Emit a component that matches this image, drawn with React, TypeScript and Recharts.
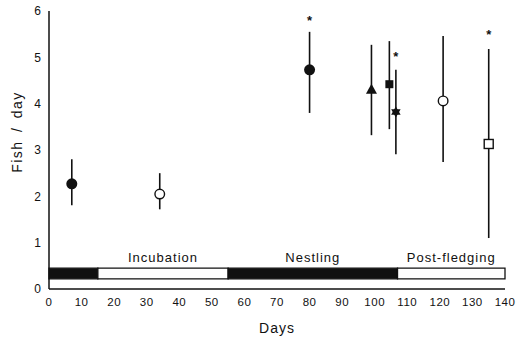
import React from 'react';
import {
  ComposedChart,
  Scatter,
  XAxis,
  YAxis,
  ErrorBar,
  ReferenceArea
} from 'recharts';

// observations: day of season, mean fish/day and range
const days = [7, 34, 80, 99, 104.5, 106.5, 121, 135];
const means = [2.27, 2.05, 4.73, 4.3, 4.42, 3.82, 4.06, 3.13];
const lows = [1.81, 1.72, 3.8, 3.32, 3.45, 2.91, 2.74, 1.1];
const highs = [2.8, 2.5, 5.55, 5.27, 5.35, 4.73, 5.46, 5.18];
const markers = ['filledCircle', 'openCircle', 'filledCircle', 'triangle', 'square', 'star', 'openCircle', 'openSquare'];

// significance asterisks
const starDays = [80, 106.5, 135];
const starY = [5.85, 5.07, 5.55];

// breeding phases bar
const phaseStart = [0, 15, 55, 107];
const phaseEnd = [15, 55, 107, 140];
const phaseFill = ['#111', '#fff', '#111', '#fff'];
const phaseLabel = ['', 'Incubation', 'Nestling', 'Post-fledging'];

const xTicks = [0, 10, 20, 30, 40, 50, 60, 70, 80, 90, 100, 110, 120, 130, 140];
const yTicks = [0, 1, 2, 3, 4, 5, 6];

const points = days.map((d, i) => ({
  day: d,
  fish: means[i],
  err: [means[i] - lows[i], highs[i] - means[i]],
  marker: markers[i]
}));

const stars = starDays.map((d, i) => ({ day: d, fish: starY[i] }));

const INK = '#111';
const FONT = '"Liberation Sans", Arial, sans-serif';

const Marker = (props: any) => {
  const { cx, cy, payload } = props;
  switch (payload.marker) {
    case 'filledCircle':
      return <circle cx={cx} cy={cy} r={5.5} fill={INK} />;
    case 'openCircle':
      return <circle cx={cx} cy={cy} r={4.8} fill="#fff" stroke={INK} strokeWidth={1.4} />;
    case 'triangle':
      return <polygon points={`${cx},${cy - 6} ${cx + 5.5},${cy + 4} ${cx - 5.5},${cy + 4}`} fill={INK} />;
    case 'square':
      return <rect x={cx - 4} y={cy - 4} width={8} height={8} fill={INK} />;
    case 'openSquare':
      return <rect x={cx - 4.5} y={cy - 4.5} width={9} height={9} fill="#fff" stroke={INK} strokeWidth={1.4} />;
    case 'star': {
      const r = 5.5;
      const pts = (off: number) =>
        [0, 1, 2].map(k => {
          const a = off + (k * 2 * Math.PI) / 3;
          return `${cx + r * Math.sin(a)},${cy - r * Math.cos(a)}`;
        }).join(' ');
      return (
        <g fill={INK}>
          <polygon points={pts(0)} />
          <polygon points={pts(Math.PI)} />
        </g>
      );
    }
    default:
      return null;
  }
};

const Asterisk = (props: any) => {
  const { cx, cy } = props;
  return (
    <text x={cx} y={cy + 7} textAnchor="middle" fontSize={13} fontWeight="bold" fontFamily={FONT} fill={INK}>
      *
    </text>
  );
};

export default function App() {
  return (
    <div style={{ position: 'fixed', left: 0, top: 0, background: '#fff' }}>
      <ComposedChart
        width={517}
        height={337}
        margin={{ top: 11, right: 12, left: 0, bottom: 0 }}
        style={{ fontFamily: FONT }}
      >
        <XAxis
          type="number"
          dataKey="day"
          domain={[0, 140]}
          ticks={xTicks}
          height={48}
          tickLine={false}
          tickSize={0}
          tickMargin={9}
          axisLine={{ stroke: INK, strokeWidth: 1.5 }}
          tick={{ fill: INK, fontSize: 11.5, letterSpacing: 0.5 }}
          label={{ value: 'Days', position: 'insideBottom', offset: 4, fill: INK, fontSize: 14, letterSpacing: 1 }}
        />
        <YAxis
          type="number"
          dataKey="fish"
          domain={[0, 6]}
          ticks={yTicks}
          width={49}
          tickLine={false}
          tickSize={0}
          tickMargin={8}
          axisLine={{ stroke: INK, strokeWidth: 1.5 }}
          tick={{ fill: INK, fontSize: 12 }}
          label={{
            value: 'Fish / day',
            angle: -90,
            position: 'center',
            dx: -7,
            dy: -18,
            fill: INK,
            fontSize: 14,
            letterSpacing: 1.5,
            wordSpacing: 3
          }}
        />
        {phaseStart.map((s, i) => (
          <ReferenceArea
            key={i}
            x1={s}
            x2={phaseEnd[i]}
            y1={0.22}
            y2={0.45}
            fill={phaseFill[i]}
            fillOpacity={1}
            stroke={INK}
            strokeWidth={1.3}
            label={phaseLabel[i] ? { value: phaseLabel[i], position: 'top', offset: 6, fill: INK, fontSize: 13, letterSpacing: 1 } : undefined}
          />
        ))}
        <Scatter data={points} shape={<Marker />} isAnimationActive={false}>
          <ErrorBar dataKey="err" direction="y" width={0} stroke={INK} strokeWidth={1.6} />
        </Scatter>
        <Scatter data={stars} shape={<Asterisk />} isAnimationActive={false} />
      </ComposedChart>
    </div>
  );
}
